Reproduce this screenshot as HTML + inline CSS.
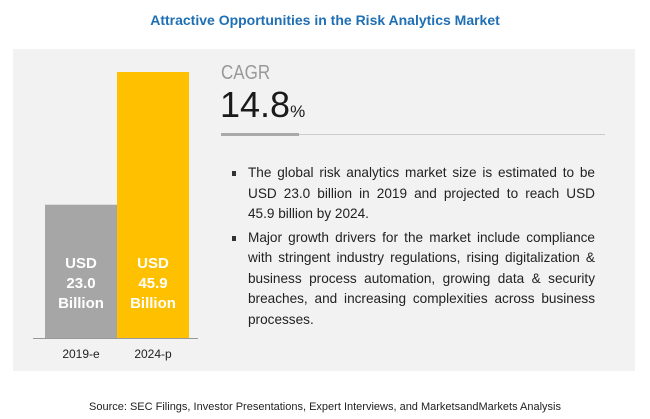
<!DOCTYPE html>
<html><head><meta charset="utf-8"><style>
body{margin:0;width:650px;height:419px;background:#fff;font-family:"Liberation Sans",sans-serif;position:relative;overflow:hidden}
.a{position:absolute}
#panel{left:13px;top:49px;width:622px;height:322px;background:#f2f2f2}
#title{left:0;width:650px;top:12px;text-align:center;color:#1f6fb5;font-weight:bold;font-size:14px}
#src{left:0;width:650px;top:401px;text-align:center;color:#222;font-size:11px}
.bl{color:#fff;font-weight:bold;font-size:15px;text-align:center;line-height:20px;position:absolute}
.xl{position:absolute;font-size:12px;color:#222;text-align:center;width:72px}
ul{margin:0;padding:0;list-style:none}
li{position:relative;padding-left:16px;text-align:justify;font-size:13.6px;line-height:20.5px;color:#222;margin-bottom:3px}
li:before{content:"";position:absolute;left:0;top:8px;width:4px;height:5px;background:#333}
</style></head><body>
<div class="a" id="title">Attractive Opportunities in the Risk Analytics Market</div>
<div class="a" id="panel"></div>
<svg class="a" style="left:0;top:0" width="650" height="419" id="chart"></svg>
<div class="a" style="left:221px;top:62px;font-size:20px;color:#999;transform:scaleX(.85);transform-origin:left">CAGR</div>
<div class="a" style="left:220px;top:84px;font-size:36px;color:#1a1a1a">14.8<span style="font-size:17px">%</span></div>
<div class="a" style="left:221px;top:134px;width:384px;height:1px;background:#ccc"></div>
<div class="a" style="left:221px;top:133px;width:78px;height:3px;background:#aaa"></div>
<ul class="a" style="left:232px;top:163px;width:363px">
<li>The global risk analytics market size is estimated to be USD 23.0 billion in 2019 and projected to reach USD 45.9 billion by 2024.</li>
<li>Major growth drivers for the market include compliance with stringent industry regulations, rising digitalization &amp; business process automation, growing data &amp; security breaches, and increasing complexities across business processes.</li>
</ul>
<div class="a" id="src">Source: SEC Filings, Investor Presentations, Expert Interviews, and MarketsandMarkets Analysis</div>
<script>
const categories=["2019-e","2024-p"];
const values=[23.0,45.9];
const labels=[["USD","23.0","Billion"],["USD","45.9","Billion"]];
const colors=["#a6a6a6","#ffc000"];
const base=338,scale=266/45.9,x0=45,bw=72;
const y=v=>base-v*scale;
const svg=document.getElementById('chart');
const NS="http://www.w3.org/2000/svg";
values.forEach((v,i)=>{
 const r=document.createElementNS(NS,'rect');
 r.setAttribute('x',x0+i*bw);r.setAttribute('y',y(v));r.setAttribute('width',bw);r.setAttribute('height',base-y(v));r.setAttribute('fill',colors[i]);
 
 
 svg.appendChild(r);
 const d=document.createElement('div');d.className='bl';
 d.style.left=(x0+i*bw)+'px';d.style.width=bw+'px';d.style.top='254px';
 d.innerHTML=labels[i].join('<br>');
 
 
 document.body.appendChild(d);
 const t=document.createElement('div');t.className='xl a';
 t.style.left=(x0+i*bw)+'px';t.style.top='347px';t.textContent=categories[i];
 
 
 document.body.appendChild(t);
});
const l=document.createElementNS(NS,'line');
l.setAttribute('x1',33);l.setAttribute('x2',198);l.setAttribute('y1',base+0.5);l.setAttribute('y2',base+0.5);l.setAttribute('stroke','#999');


svg.appendChild(l);
</script>
</body></html>
